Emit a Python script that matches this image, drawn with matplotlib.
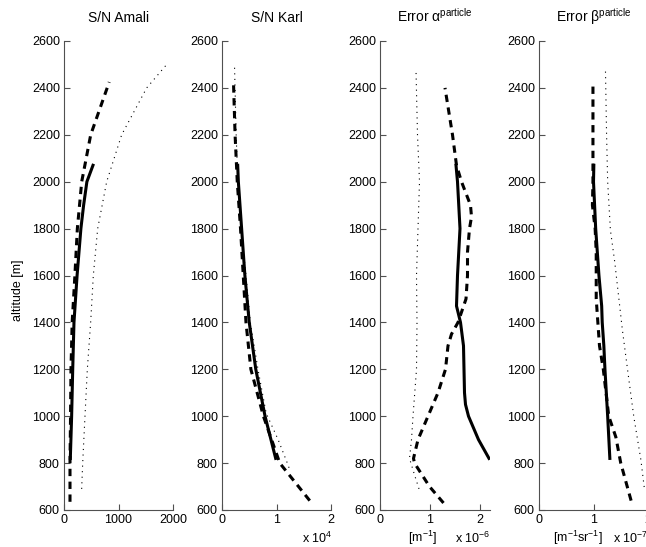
import numpy as np
import matplotlib
matplotlib.use('Agg')
from matplotlib import pyplot as plt

plt.rcParams['font.family'] = ['Liberation Sans', 'DejaVu Sans']
plt.rcParams['mathtext.fontset'] = 'custom'
plt.rcParams['mathtext.rm'] = 'Liberation Sans'
plt.rcParams['mathtext.it'] = 'Liberation Sans:italic'
plt.rcParams['mathtext.default'] = 'regular'

# S/N Amali
amali_solid_alt = [820, 1000, 1200, 1400, 1600, 1800, 1900, 2000, 2070]
amali_solid = [116, 140, 160, 183, 240, 310, 360, 420, 532]
amali_dash_alt = [635, 800, 1000, 1200, 1400, 1600, 1800, 2000, 2200, 2425]
amali_dash = [110, 110, 120, 128, 150, 200, 245, 325, 490, 830]
amali_dot_alt = [690, 800, 1000, 1200, 1400, 1600, 1800, 2000, 2200, 2400, 2500]
amali_dot = [324, 343, 385, 428, 489, 538, 618, 783, 1058, 1517, 1885]

# S/N Karl (x 1e4)
karl_solid_alt = [820, 1000, 1200, 1400, 1600, 1800, 2000, 2070]
karl_solid = [0.985, 0.79, 0.62, 0.50, 0.42, 0.36, 0.30, 0.288]
karl_dash_alt = [640, 800, 1000, 1200, 1400, 1600, 1800, 2000, 2200, 2430]
karl_dash = [1.61, 1.06, 0.76, 0.53, 0.44, 0.39, 0.34, 0.28, 0.24, 0.21]
karl_dot_alt = [780, 805, 900, 1013, 1200, 1400, 1600, 1800, 2000, 2200, 2490]
karl_dot = [1.23, 1.19, 1.03, 0.81, 0.66, 0.52, 0.44, 0.35, 0.29, 0.26, 0.23]

# Error alpha (x 1e-6)
alpha_solid_alt = [820, 900, 1000, 1050, 1100, 1200, 1300, 1400, 1470, 1600, 1800, 2000, 2070]
alpha_solid = [2.18, 1.97, 1.77, 1.71, 1.69, 1.68, 1.67, 1.61, 1.53, 1.55, 1.60, 1.55, 1.52]
alpha_dash_alt = [630, 700, 800, 820, 900, 1000, 1100, 1200, 1300, 1350, 1400, 1500,
                  1600, 1700, 1800, 1850, 1900, 2000, 2070, 2200, 2400]
alpha_dash = [1.27, 0.99, 0.69, 0.67, 0.76, 0.96, 1.16, 1.31, 1.36, 1.43, 1.56, 1.72,
              1.75, 1.75, 1.79, 1.83, 1.81, 1.63, 1.53, 1.45, 1.30]
alpha_dot_alt = [690, 750, 820, 900, 1000, 1200, 1400, 1600, 1800, 2000, 2200, 2475]
alpha_dot = [0.78, 0.69, 0.59, 0.63, 0.66, 0.73, 0.74, 0.73, 0.76, 0.79, 0.75, 0.72]

# Error beta (x 1e-7)
beta_solid_alt = [820, 1000, 1200, 1300, 1400, 1470, 1600, 1800, 2000, 2070]
beta_solid = [1.30, 1.26, 1.21, 1.19, 1.16, 1.15, 1.10, 1.04, 1.00, 1.006]
beta_dash_alt = [640, 800, 911, 1000, 1200, 1300, 1400, 1500, 1600, 1700, 1800, 1900, 2000, 2200, 2420]
beta_dash = [1.69, 1.50, 1.41, 1.28, 1.18, 1.11, 1.08, 1.05, 1.05, 1.05, 1.03, 0.98, 0.99, 0.99, 0.99]
beta_dot_alt = [698, 813, 997, 1154, 1368, 1657, 1794, 2000, 2200, 2470]
beta_dot = [1.93, 1.87, 1.74, 1.65, 1.53, 1.39, 1.31, 1.26, 1.24, 1.22]

titles = ['S/N Amali', 'S/N Karl', r'Error $\alpha^{particle}$', r'Error $\beta^{particle}$']
xlims = [(0, 2000), (0, 2), (0, 2.2), (0, 2)]
xticks = [[0, 1000, 2000], [0, 1, 2], [0, 1, 2], [0, 1, 2]]
panels = [
    [(amali_solid, amali_solid_alt), (amali_dash, amali_dash_alt), (amali_dot, amali_dot_alt)],
    [(karl_solid, karl_solid_alt), (karl_dash, karl_dash_alt), (karl_dot, karl_dot_alt)],
    [(alpha_solid, alpha_solid_alt), (alpha_dash, alpha_dash_alt), (alpha_dot, alpha_dot_alt)],
    [(beta_solid, beta_solid_alt), (beta_dash, beta_dash_alt), (beta_dot, beta_dot_alt)],
]

W, H = 646, 547
fig = plt.figure(figsize=(W / 100, H / 100), dpi=100)

lefts = [64, 222, 380, 539]
widths = [109, 109, 110, 109]
styles = [
    dict(color='black', lw=2.2, linestyle='-'),
    dict(color='black', lw=2.2, linestyle=(0, (2.4, 1.8))),
    dict(color='black', lw=0.8, linestyle=(0, (1, 4))),
]

for i in range(4):
    ax = fig.add_axes([lefts[i] / W, 37 / H, widths[i] / W, 469 / H])
    for (x, y), st in zip(panels[i], styles):
        ax.plot(x, y, **st)
    ax.set_xlim(*xlims[i])
    ax.set_ylim(600, 2600)
    ax.set_xticks(xticks[i])
    ax.set_yticks(np.arange(600, 2601, 200))
    for s in ['top', 'right']:
        ax.spines[s].set_visible(False)
    for s in ['left', 'bottom']:
        ax.spines[s].set_color('#505050')
        ax.spines[s].set_linewidth(0.8)
    ax.tick_params(direction='in', length=4, width=0.8, color='#505050',
                   labelsize=9, pad=3)
    ax.set_title(titles[i], fontsize=10, pad=14)

fig.text(18 / W, 0.47, 'altitude [m]', rotation=90, fontsize=9, ha='center', va='center')

# axis units / multipliers
ty = 9 / H
fig.text(302 / W, ty, r'x 10$^{4}$', fontsize=9, ha='left', va='center')
fig.text(422 / W, ty, r'[m$^{-1}$]', fontsize=9, ha='center', va='center')
fig.text(455 / W, ty, r'x 10$^{-6}$', fontsize=9, ha='left', va='center')
fig.text(578 / W, ty, r'[m$^{-1}$sr$^{-1}$]', fontsize=9, ha='center', va='center')
fig.text(613 / W, ty, r'x 10$^{-7}$', fontsize=9, ha='left', va='center')

fig.savefig('out.png', dpi=100)
